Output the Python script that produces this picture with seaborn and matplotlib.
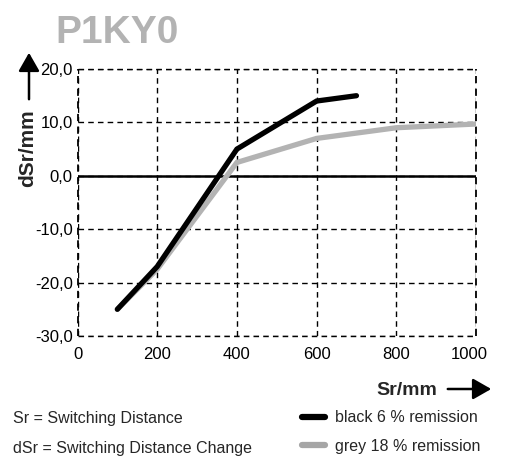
import matplotlib
matplotlib.use("Agg")
import matplotlib.pyplot as plt
import matplotlib.transforms as mtransforms
import seaborn as sns
import pandas as pd
from matplotlib.lines import Line2D
from matplotlib.patches import FancyArrowPatch

sns.set_theme(style="white")
plt.rcParams['font.family'] = ['Liberation Sans', 'DejaVu Sans']

black_x = [100, 200, 400, 600, 700]
black_y = [-25, -17, 5, 14, 15]
grey_x = [100, 200, 400, 600, 800, 1000]
grey_y = [-25, -17.5, 2.5, 7, 9, 9.7]
series_names = ["black 6 % remission", "grey 18 % remission"]
x_ticks = [0, 200, 400, 600, 800, 1000]
y_ticks = [-30, -20, -10, 0, 10, 20]
y_tick_labels = ["-30,0", "-20,0", "-10,0", "0,0", "10,0", "20,0"]

df = pd.concat([
    pd.DataFrame({"Sr": black_x, "dSr": black_y, "series": series_names[0]}),
    pd.DataFrame({"Sr": grey_x, "dSr": grey_y, "series": series_names[1]}),
])

W, H = 508, 457
fig = plt.figure(figsize=(W / 100, H / 100), dpi=100)
ax = fig.add_axes([77.5 / W, 1 - 336 / H, (476 - 77.5) / W, (336 - 69) / H])

ax.axhline(0, color="black", lw=1.8, zorder=2)
sns.lineplot(data=df, x="Sr", y="dSr", hue="series", hue_order=series_names[::-1],
             palette={series_names[0]: "black", series_names[1]: "#b3b3b3"},
             lw=3.8, ax=ax, legend=False, zorder=3,
             solid_capstyle="round", solid_joinstyle="miter")

ax.set_xlim(0, 1000)
ax.set_ylim(-30, 20)
ax.set_xticks(x_ticks)
ax.set_xticklabels([str(v) for v in x_ticks])
ax.set_yticks(y_ticks)
ax.set_yticklabels(y_tick_labels)
ax.tick_params(axis="y", length=0, labelsize=12, colors="black", pad=3.5)
ax.tick_params(axis="x", length=0, labelsize=12, colors="black", pad=8)
ax.grid(True, color="black", linestyle=(0, (4, 3)), lw=1.0)
for s in ax.spines.values():
    s.set_visible(False)
ax.set_xlabel("")
ax.set_ylabel("")

# shift the last x tick label slightly left, as in the reference
last = ax.get_xticklabels()[-1]
last.set_transform(last.get_transform() +
                   mtransforms.ScaledTranslation(-7 / 100, 0, fig.dpi_scale_trans))

for v in [0, 1000]:
    ax.axvline(v, color="black", linestyle=(0, (4, 3)), lw=1.3, clip_on=False)
for v in [-30, 20]:
    ax.axhline(v, color="black", linestyle=(0, (4, 3)), lw=1.0, clip_on=False)

fig.text(55 / W, 1 - 43 / H, "P1KY0", fontsize=28, fontweight="bold",
         color="#b3b3b3", ha="left", va="baseline")

fig.text(28 / W, 1 - 148 / H, "dSr/mm", fontsize=15, fontweight="bold",
         rotation=90, ha="center", va="center")
fig.add_artist(FancyArrowPatch(
    (29 / W, 1 - 102 / H), (29 / W, 1 - 50 / H), transform=fig.transFigure,
    arrowstyle="-|>,head_length=7,head_width=4", color="black", lw=1.8, mutation_scale=1.6))

fig.text(437 / W, 1 - 395 / H, "Sr/mm", fontsize=14, fontweight="bold",
         ha="right", va="baseline")
fig.add_artist(FancyArrowPatch(
    (445 / W, 1 - 389 / H), (494 / W, 1 - 389 / H), transform=fig.transFigure,
    arrowstyle="-|>,head_length=7,head_width=4", color="black", lw=1.8, mutation_scale=1.6))

fig.text(13 / W, 1 - 423 / H, "Sr = Switching Distance", fontsize=11.5, va="baseline")
fig.text(13 / W, 1 - 453 / H, "dSr = Switching Distance Change", fontsize=11.5, va="baseline")

handles = [Line2D([0], [0], color="black", lw=4.5, solid_capstyle="round"),
           Line2D([0], [0], color="#a6a6a6", lw=4.5, solid_capstyle="round")]
fig.legend(handles, series_names, loc="center left",
           bbox_to_anchor=(302 / W, 1 - 432 / H), frameon=False,
           fontsize=11.5, handlelength=1.45, handletextpad=0.6, labelspacing=0.85,
           borderpad=0, borderaxespad=0)

fig.savefig("out.png", dpi=100)
